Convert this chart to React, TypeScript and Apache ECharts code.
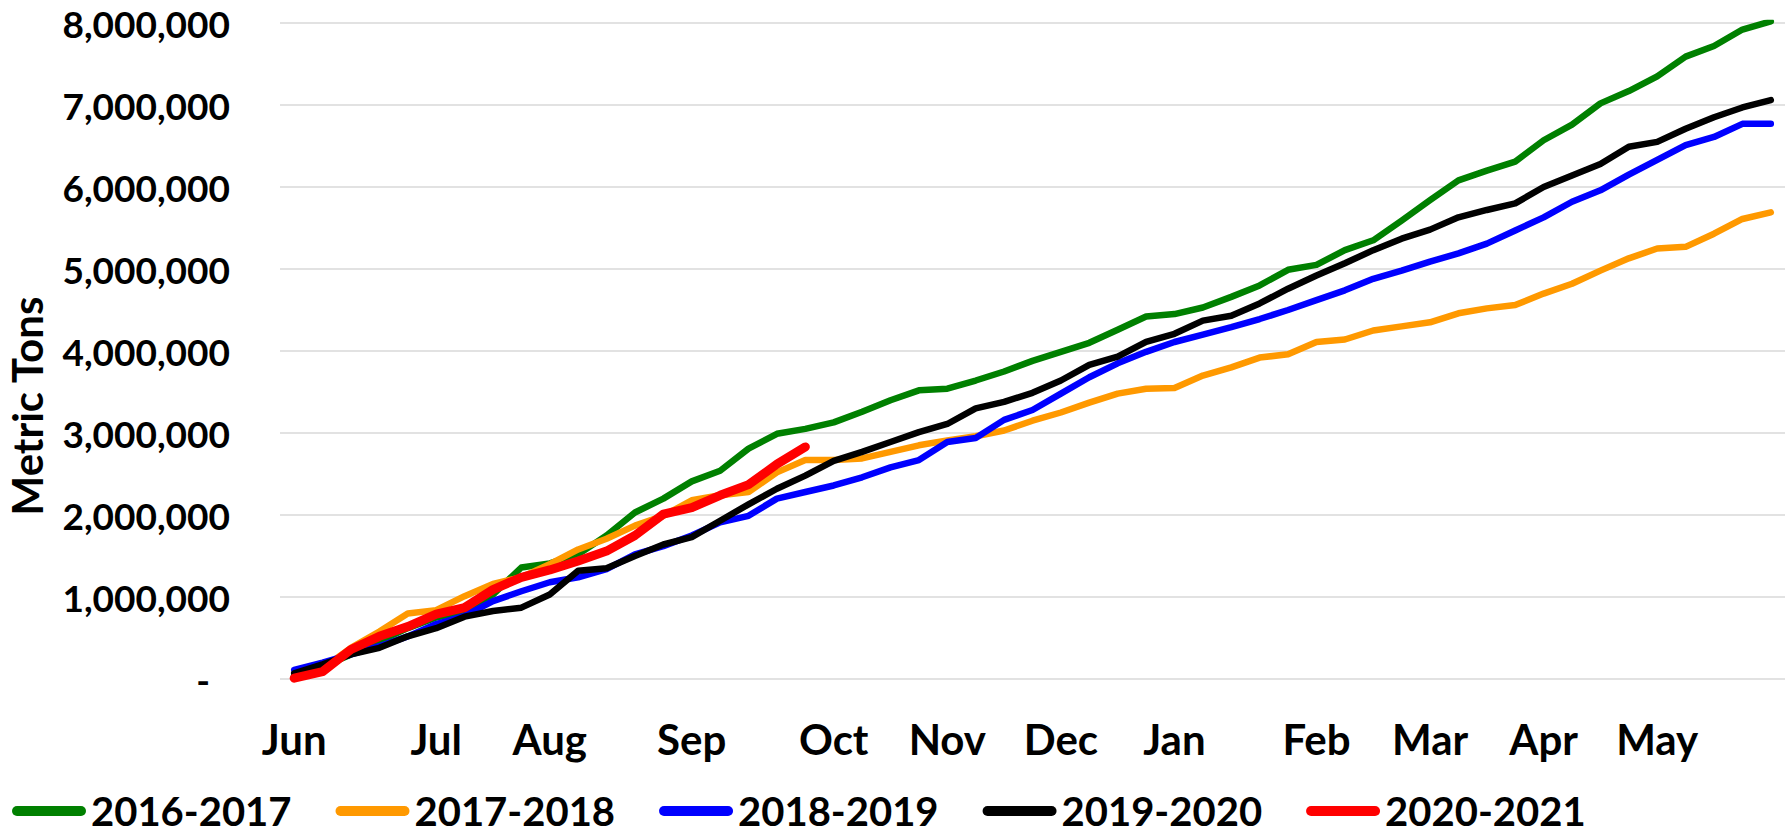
import React, { useEffect, useRef } from "react";
import * as echarts from "echarts";

// 53 weekly categories; month names sit on the week where each month starts
const categories: string[] = [
  "Jun", "", "", "", "", "Jul", "", "", "", "Aug", "", "", "", "", "Sep", "", "", "", "", "Oct",
  "", "", "", "Nov", "", "", "", "Dec", "", "", "", "Jan", "", "", "", "", "Feb", "", "", "",
  "Mar", "", "", "", "Apr", "", "", "", "May", "", "", "", "",
];

const seriesNames = ["2016-2017", "2017-2018", "2018-2019", "2019-2020", "2020-2021"];
const seriesColors = ["#008000", "#FF9900", "#0000FF", "#000000", "#FF0000"];

// cumulative metric tons (millions)
const s2016: number[] = [
  0.04, 0.15, 0.3, 0.46, 0.62, 0.75, 0.83, 1.03, 1.36, 1.41, 1.52, 1.75, 2.03, 2.2, 2.41, 2.54, 2.81, 2.99, 3.05, 3.13,
  3.26, 3.4, 3.52, 3.54, 3.64, 3.75, 3.88, 3.99, 4.1, 4.26, 4.42, 4.45, 4.53, 4.66, 4.8, 4.99, 5.05, 5.23, 5.35, 5.59,
  5.84, 6.08, 6.2, 6.31, 6.57, 6.76, 7.02, 7.17, 7.35, 7.59, 7.72, 7.92, 8.02,
];
const s2017: number[] = [
  0.02, 0.13, 0.38, 0.58, 0.8, 0.84, 1.01, 1.16, 1.24, 1.4, 1.58, 1.71, 1.87, 1.99, 2.18, 2.24, 2.28, 2.52, 2.67, 2.67,
  2.69, 2.77, 2.85, 2.91, 2.96, 3.03, 3.15, 3.25, 3.37, 3.48, 3.54, 3.55, 3.7, 3.8, 3.92, 3.96, 4.11, 4.14, 4.25, 4.3,
  4.35, 4.46, 4.52, 4.56, 4.7, 4.82, 4.98, 5.13, 5.25, 5.27, 5.43, 5.61, 5.69,
];
const s2018: number[] = [
  0.11, 0.2, 0.3, 0.4, 0.52, 0.67, 0.77, 0.95, 1.07, 1.18, 1.24, 1.34, 1.52, 1.62, 1.75, 1.91, 1.99, 2.2, 2.28, 2.36,
  2.46, 2.58, 2.67, 2.89, 2.94, 3.16, 3.28, 3.48, 3.68, 3.85, 3.99, 4.11, 4.2, 4.29, 4.39, 4.5, 4.62, 4.74, 4.88, 4.98,
  5.09, 5.19, 5.31, 5.47, 5.63, 5.82, 5.96, 6.15, 6.33, 6.51, 6.61, 6.77, 6.77,
];
const s2019: number[] = [
  0.07, 0.18, 0.3, 0.38, 0.52, 0.62, 0.76, 0.83, 0.87, 1.03, 1.32, 1.35, 1.5, 1.64, 1.73, 1.93, 2.13, 2.32, 2.48, 2.66,
  2.77, 2.89, 3.01, 3.11, 3.3, 3.38, 3.49, 3.64, 3.83, 3.93, 4.11, 4.21, 4.37, 4.43, 4.58, 4.76, 4.92, 5.07, 5.23, 5.37,
  5.48, 5.63, 5.72, 5.8, 6.0, 6.14, 6.28, 6.49, 6.55, 6.71, 6.85, 6.97, 7.06,
];
const s2020: number[] = [
  0.01, 0.09, 0.36, 0.52, 0.64, 0.79, 0.87, 1.09, 1.24, 1.33, 1.44, 1.56, 1.75, 2.01, 2.09, 2.24, 2.37, 2.62, 2.83,
];

const yMax = 8000000;
const yStep = 1000000;

const FONT = "Lato";

export default function App() {
  const ref = useRef<HTMLDivElement>(null);

  useEffect(() => {
    if (!ref.current) return;
    const chart = echarts.init(ref.current, undefined, { renderer: "svg" });
    const all = [s2016, s2017, s2018, s2019, s2020];
    const capsule = "path://M5,0H69A5,5,0,0,1,69,10H5A5,5,0,0,1,5,0Z";
    chart.setOption({
      animation: false,
      backgroundColor: "#ffffff",
      grid: { left: 280, right: 7, top: 23, bottom: 158, containLabel: false },
      xAxis: {
        type: "category",
        data: categories,
        boundaryGap: true,
        axisLine: { show: false },
        axisTick: { show: false },
        splitLine: { show: false },
        axisLabel: {
          interval: 0,
          margin: 39,
          color: "#000",
          fontFamily: FONT,
          fontWeight: "bold",
          fontSize: 42,
        },
      },
      yAxis: {
        type: "value",
        min: 0,
        max: yMax,
        interval: yStep,
        axisLine: { show: false },
        axisTick: { show: false },
        splitLine: { show: true, lineStyle: { color: "#D9D9D9", width: 1.5 } },
        axisLabel: {
          margin: 50,
          color: "#000",
          fontFamily: FONT,
          fontWeight: "bold",
          fontSize: 37,
          formatter: (v: number) => (v === 0 ? "{d|-}" : v.toLocaleString("en-US")),
          rich: {
            d: { padding: [0, 20, 0, 0], color: "#000", fontFamily: FONT, fontWeight: "bold", fontSize: 37 },
          },
        },
      },
      legend: {
        left: 7,
        top: 786,
        itemWidth: 74,
        itemHeight: 10,
        itemGap: 44,
        icon: capsule,
        itemStyle: { borderWidth: 0 },
        textStyle: { color: "#000", fontFamily: FONT, fontWeight: "bold", fontSize: 40, lineHeight: 40 },
        data: seriesNames,
      },
      graphic: [
        {
          type: "text",
          x: 27,
          y: 406,
          rotation: Math.PI / 2,
          style: {
            text: "Metric Tons",
            fill: "#000",
            fontFamily: FONT,
            fontWeight: "bold",
            fontSize: 42,
            align: "center",
            verticalAlign: "middle",
          },
        },
      ],
      series: seriesNames.map((name, k) => ({
        name,
        type: "line",
        data: all[k].map((v) => Math.round(v * 1000000)),
        symbol: "none",
        color: seriesColors[k],
        lineStyle: { width: k === 4 ? 9 : 6.5, color: seriesColors[k], cap: "round", join: "round" },
        z: 2 + k,
      })),
    });
    return () => chart.dispose();
  }, []);

  return (
    <div
      ref={ref}
      style={{ position: "fixed", left: 0, top: 0, width: 1792, height: 837, background: "#fff" }}
    />
  );
}
